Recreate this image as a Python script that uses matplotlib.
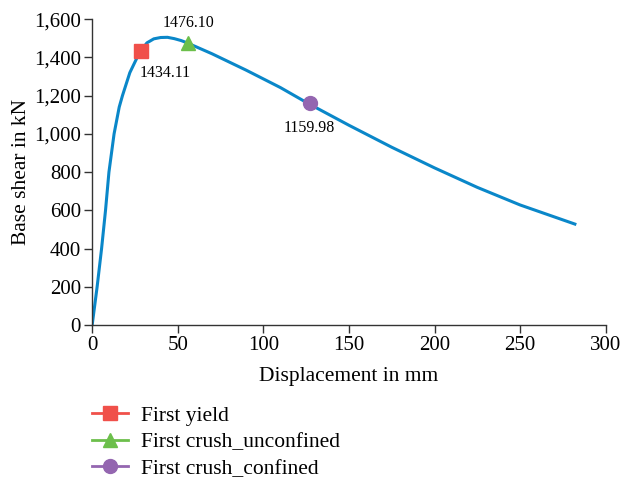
import matplotlib
matplotlib.use("Agg")
import matplotlib.pyplot as plt
import numpy as np

plt.rcParams['font.family'] = ['Liberation Serif', 'DejaVu Serif']

disp = [0, 2.9, 5.5, 7.8, 9.8, 12.8, 15.8, 17.7, 22, 26.3, 28.4, 32, 36, 40, 44, 48, 52, 55.5, 70, 90, 110, 126, 150, 175, 200, 225, 250, 282]
shear = [0, 200, 400, 600, 800, 1000, 1140, 1200, 1320, 1400, 1434, 1476, 1497, 1504, 1505, 1498, 1488, 1476, 1419, 1333, 1242, 1160, 1045, 930, 822, 720, 628, 528]

yield_pt = (28.4, 1434.11)
crush_unc = (56, 1476.10)
crush_con = (127, 1159.98)

fig = plt.figure(figsize=(6.27, 4.79), dpi=100)
ax = fig.add_axes([0.147, 0.3215, 0.819, 0.6385])

ax.plot(disp, shear, color='#0a87c9', lw=2.2, zorder=2)
h1, = ax.plot([yield_pt[0]], [yield_pt[1]], marker='s', ms=10, color='#f0504a', ls='-', lw=2, label='First yield', zorder=3)
h2, = ax.plot([crush_unc[0]], [crush_unc[1]], marker='^', ms=10, color='#6cbf4b', ls='-', lw=2, label='First crush_unconfined', zorder=3)
h3, = ax.plot([crush_con[0]], [crush_con[1]], marker='o', ms=10, color='#9466b0', ls='-', lw=2, label='First crush_confined', zorder=3)

ax.text(yield_pt[0] + 14.5, yield_pt[1] - 115, f"{yield_pt[1]:.2f}", ha='center', va='center', fontsize=11.5)
ax.text(crush_unc[0], crush_unc[1] + 105, f"{crush_unc[1]:.2f}", ha='center', va='center', fontsize=11.5)
ax.text(crush_con[0], crush_con[1] - 130, f"{crush_con[1]:.2f}", ha='center', va='center', fontsize=11.5)

ax.set_xlim(0, 300)
ax.set_ylim(0, 1600)
ax.set_xticks(np.arange(0, 301, 50))
ax.set_yticks(np.arange(0, 1601, 200))
ax.set_yticklabels([f"{v:,}" for v in range(0, 1601, 200)])
ax.spines['top'].set_visible(False)
ax.spines['right'].set_visible(False)
for s in ['left', 'bottom']:
    ax.spines[s].set_color('#333333')
    ax.spines[s].set_linewidth(1.0)
ax.tick_params(axis='both', labelsize=15, color='#333333', length=6, width=1, pad=2)
ax.set_xlabel("Displacement in mm", fontsize=15.5, labelpad=8.5)
ax.set_ylabel("Base shear in kN", fontsize=15.5, labelpad=2)

fig.legend(handles=[h1, h2, h3], loc='upper left', bbox_to_anchor=(0.147, 0.153), frameon=False,
           fontsize=15.5, handlelength=1.67, labelspacing=0.3, borderaxespad=0, borderpad=0, handletextpad=0.6)

fig.savefig("out.png", dpi=100)
